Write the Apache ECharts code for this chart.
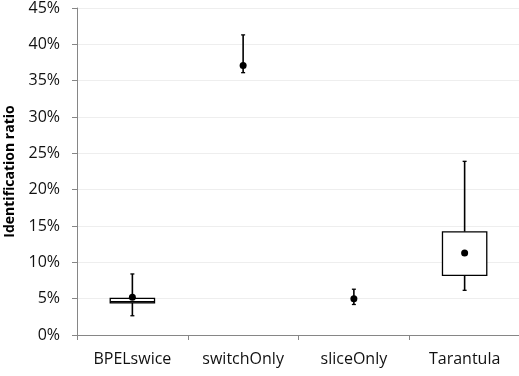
<!DOCTYPE html>
<html>
<head>
<meta charset="utf-8">
<script src="https://cdn.jsdelivr.net/npm/echarts@6/dist/echarts.min.js"></script>
<style>html,body{margin:0;padding:0;background:#fff;}#c{width:519px;height:376px;}</style>
</head>
<body>
<div id="c"></div>
<script>
const categories = ['BPELswice', 'switchOnly', 'sliceOnly', 'Tarantula'];
const lowVals    = [2.65, 36.1, 4.2, 6.15];
const q1Vals     = [4.43, null, null, 8.2];
const medianVals = [4.57, null, null, null];
const q3Vals     = [5.05, null, null, 14.2];
const highVals   = [8.4, 41.3, 6.3, 23.9];
const meanVals   = [5.2, 37.1, 5.0, 11.3];

const chart = echarts.init(document.getElementById('c'), null, {renderer: 'canvas'});

const boxData = categories.map((c, i) => [i, lowVals[i], highVals[i]]);
const meanData = categories.map((c, i) => [i, meanVals[i]]);

function renderBox(params, api) {
  const i = params.dataIndex;
  const band = api.size([1, 0])[0];
  const boxW = band * 0.4;
  const capW = 4;
  const top = api.coord([i, highVals[i]]);
  const bot = api.coord([i, lowVals[i]]);
  const x = top[0];
  const lineStyle = {stroke: '#000', lineWidth: 1.6};
  const children = [];
  const hasBox = q1Vals[i] != null && q3Vals[i] != null;
  if (hasBox) {
    const pq3 = api.coord([i, q3Vals[i]]);
    const pq1 = api.coord([i, q1Vals[i]]);
    children.push({type: 'line', shape: {x1: x, y1: top[1], x2: x, y2: pq3[1]}, style: lineStyle});
    children.push({type: 'line', shape: {x1: x, y1: pq1[1], x2: x, y2: bot[1]}, style: lineStyle});
    children.push({type: 'rect', shape: {x: x - boxW / 2, y: pq3[1], width: boxW, height: pq1[1] - pq3[1]},
      style: {fill: '#fff', stroke: '#000', lineWidth: 1.3}});
    if (medianVals[i] != null) {
      const pm = api.coord([i, medianVals[i]]);
      children.push({type: 'line', shape: {x1: x - boxW / 2, y1: pm[1], x2: x + boxW / 2, y2: pm[1]},
        style: {stroke: '#000', lineWidth: 1.6}});
    }
  } else {
    children.push({type: 'line', shape: {x1: x, y1: top[1], x2: x, y2: bot[1]}, style: lineStyle});
  }
  children.push({type: 'line', shape: {x1: x - capW / 2, y1: top[1], x2: x + capW / 2, y2: top[1]}, style: {stroke: '#000', lineWidth: 1.3}});
  children.push({type: 'line', shape: {x1: x - capW / 2, y1: bot[1], x2: x + capW / 2, y2: bot[1]}, style: {stroke: '#000', lineWidth: 1.3}});
  return {type: 'group', children: children};
}

chart.setOption({
  animation: false,
  backgroundColor: '#fff',
  grid: {left: 77, right: -1, top: 8, bottom: 41, containLabel: false, outerBoundsMode: 'none'},
  xAxis: {
    type: 'category',
    data: categories,
    boundaryGap: true,
    axisLine: {lineStyle: {color: '#868686', width: 1}},
    axisTick: {show: true, length: 5, lineStyle: {color: '#868686'}},
    axisLabel: {color: '#111', fontFamily: 'Open Sans', fontSize: 16, margin: 16},
    splitLine: {show: false}
  },
  yAxis: {
    type: 'value',
    min: 0, max: 45, interval: 5,
    name: 'Identification ratio',
    nameLocation: 'middle',
    nameGap: 60,
    nameTextStyle: {color: '#000', fontFamily: 'Open Sans', fontSize: 14, fontWeight: 'bold'},
    axisLine: {show: true, lineStyle: {color: '#868686', width: 1}},
    axisTick: {show: true, length: 5, lineStyle: {color: '#868686'}},
    axisLabel: {color: '#111', fontFamily: 'Open Sans', fontSize: 16, margin: 17, formatter: '{value}%'},
    splitLine: {show: true, lineStyle: {color: '#eeeeee', width: 1}}
  },
  series: [
    {
      type: 'custom',
      renderItem: renderBox,
      data: boxData,
      encode: {x: 0, y: [1, 2]},
      z: 2
    },
    {
      type: 'scatter',
      data: meanData,
      symbol: 'circle',
      symbolSize: 7,
      itemStyle: {color: '#000', opacity: 1},
      z: 5
    }
  ]
});
</script>
</body>
</html>
